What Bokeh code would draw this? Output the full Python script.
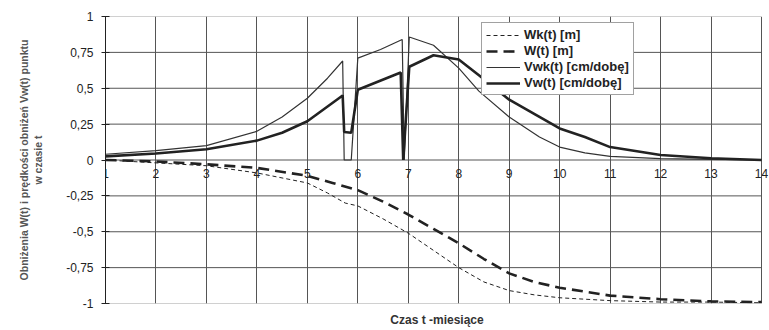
from bokeh.plotting import figure
from bokeh.models import FixedTicker, LinearAxis, Legend, LegendItem, Range1d, Title
from bokeh.embed import file_html
from bokeh.resources import INLINE

# ---- data ----
wk_t = [1, 2, 3, 4, 5, 5.4, 5.75, 6.0, 6.5, 7, 7.5, 8, 8.5, 9, 9.5, 10, 11, 12, 13, 14]
wk_v = [0.0, -0.02, -0.04, -0.09, -0.16, -0.23, -0.30, -0.32, -0.41, -0.51, -0.63, -0.75, -0.85, -0.91, -0.94, -0.96, -0.98, -0.99, -0.99, -0.995]

w_t = [1, 2, 3, 4, 5, 5.5, 6, 6.5, 7, 7.5, 8, 8.5, 9, 9.5, 10, 11, 12, 13, 14]
w_v = [0.0, -0.01, -0.03, -0.055, -0.11, -0.16, -0.21, -0.29, -0.38, -0.48, -0.58, -0.69, -0.79, -0.85, -0.89, -0.945, -0.97, -0.985, -0.99]

vwk_t = [1, 2, 3, 4, 4.5, 5, 5.4, 5.7, 5.73, 5.87, 6.0, 6.45, 6.88, 6.92, 7.02, 7.5, 8, 8.4, 9, 9.6, 10, 10.5, 11, 12, 13, 14]
vwk_v = [0.04, 0.065, 0.10, 0.20, 0.30, 0.43, 0.57, 0.69, 0.0, 0.0, 0.71, 0.77, 0.84, 0.0, 0.857, 0.80, 0.64, 0.48, 0.30, 0.16, 0.09, 0.05, 0.025, 0.01, 0.004, 0.0]

vw_t = [1, 2, 3, 4, 4.5, 5, 5.7, 5.73, 5.87, 6.0, 6.85, 6.9, 7.02, 7.5, 8, 8.4, 9, 9.6, 10, 10.5, 11, 12, 13, 14]
vw_v = [0.025, 0.045, 0.075, 0.135, 0.19, 0.27, 0.45, 0.195, 0.19, 0.49, 0.61, 0.0, 0.65, 0.73, 0.70, 0.59, 0.42, 0.30, 0.22, 0.16, 0.09, 0.035, 0.012, 0.0]

x_ticks = list(range(1, 15))
y_ticks = [-1, -0.75, -0.5, -0.25, 0, 0.25, 0.5, 0.75, 1]
y_tick_labels = ["-1", "-0,75", "-0,5", "-0,25", "0", "0,25", "0,5", "0,75", "1"]

legend_labels = ["Wk(t) [m]", "W(t) [m]", "Vwk(t) [cm/dobę]", "Vw(t) [cm/dobę]"]
x_title = "Czas t -miesiące"
y_title = "Obniżenia W(t) i prędkości obniżeń Vw(t) punktu\nw czasie t"

FONT = "Liberation Sans"
INK = "#222222"
GRID = "#555555"

# plot area runs from x = 1 to x = 14; a few extra pixels on the right keep the
# last tick label ("14") from being clipped by the frame
x_pad = 7 * (x_ticks[-1] - x_ticks[0]) / 656

p = figure(frame_width=663, frame_height=287, output_backend="svg", toolbar_location=None,
           x_range=Range1d(x_ticks[0], x_ticks[-1] + x_pad), y_range=Range1d(-1, 1),
           x_axis_location=None, min_border_left=105, min_border_right=1,
           min_border_top=16, min_border_bottom=27)
p.background_fill_color = "white"
p.border_fill_color = "white"
p.outline_line_color = None

# vertical grid (x = 14 forms the right edge of the plot area)
p.xgrid.ticker = FixedTicker(ticks=x_ticks)
p.xgrid.grid_line_color = GRID
p.xgrid.grid_line_width = 1
p.ygrid.visible = False

# horizontal grid lines bounded to the plot area 1..14
inner_y = [t for t in y_ticks if abs(t) < 1]
outer_y = [t for t in y_ticks if abs(t) == 1]
p.segment(x0=[x_ticks[0]] * len(inner_y), y0=inner_y, x1=[x_ticks[-1]] * len(inner_y), y1=inner_y,
          line_color=GRID, line_width=1, level="underlay")
p.segment(x0=[x_ticks[0]] * len(outer_y), y0=outer_y, x1=[x_ticks[-1]] * len(outer_y), y1=outer_y,
          line_color="#444444", line_width=1, line_dash="1 1", level="underlay")

# y axis
ya = p.yaxis[0]
ya.ticker = FixedTicker(ticks=y_ticks)
ya.major_label_overrides = {t: l for t, l in zip(y_ticks, y_tick_labels)}
ya.major_label_text_font = FONT
ya.major_label_text_font_size = "12px"
ya.major_label_text_color = INK
ya.major_label_standoff = 8
ya.major_tick_in = 4
ya.major_tick_out = 4
ya.minor_tick_line_color = None
ya.axis_line_color = INK
ya.major_tick_line_color = INK
ya.axis_label = y_title
ya.axis_label_text_font = FONT
ya.axis_label_text_font_style = "bold"
ya.axis_label_text_font_size = "10.5px"
ya.axis_label_text_color = "#555555"
ya.axis_label_standoff = 19

# x axis drawn along y = 0
xa = LinearAxis(ticker=FixedTicker(ticks=x_ticks), fixed_location=0)
xa.major_label_text_font = FONT
xa.major_label_text_font_size = "12px"
xa.major_label_text_color = INK
xa.major_label_standoff = 9
xa.major_tick_in = 0
xa.major_tick_out = 0
xa.minor_tick_line_color = None
xa.axis_line_color = None
p.add_layout(xa, "below")

# x title
p.add_layout(Title(text=x_title, align="center", text_font=FONT, text_font_style="bold",
                   text_font_size="12px", text_color="#333333", standoff=14,
                   padding=0, offset=-4), "below")

r1 = p.line(wk_t, wk_v, line_color=INK, line_width=1, line_dash="4 3")
r2 = p.line(w_t, w_v, line_color=INK, line_width=2.6, line_dash="11 6")
r3 = p.line(vwk_t, vwk_v, line_color="#333333", line_width=1.2)
r4 = p.line(vw_t, vw_v, line_color=INK, line_width=2.6)

legend = Legend(items=[LegendItem(label=l, renderers=[r]) for l, r in zip(legend_labels, [r1, r2, r3, r4])],
                location=(376, 208), orientation="vertical")
legend.label_text_font = FONT
legend.label_text_font_size = "13px"
legend.label_text_font_style = "bold"
legend.label_text_color = INK
legend.glyph_width = 34
legend.glyph_height = 14
legend.spacing = 1
legend.padding = 4
legend.margin = 0
legend.label_standoff = 4
legend.label_height = 14
legend.border_line_color = "#444444"
legend.border_line_width = 1
legend.background_fill_color = "white"
legend.background_fill_alpha = 1
p.add_layout(legend, "center")

open("out.html", "w").write(file_html(p, INLINE))
